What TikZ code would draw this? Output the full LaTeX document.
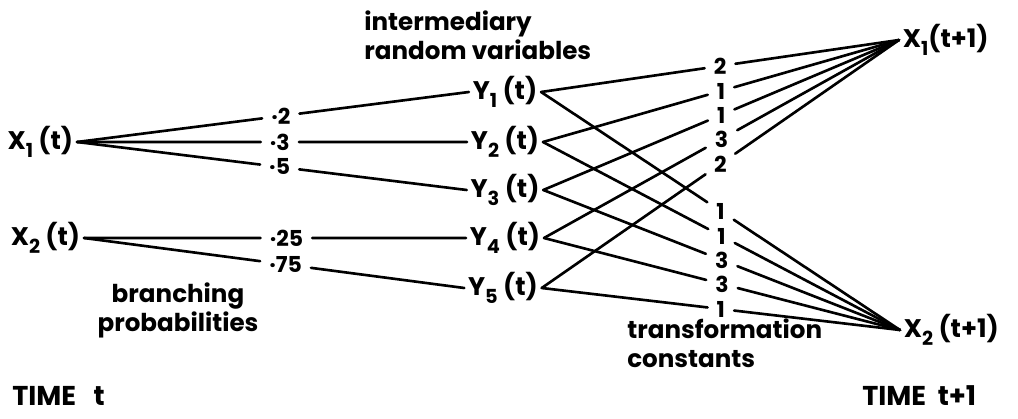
\documentclass[tikz,border=0pt]{standalone}
\usepackage{fontspec}
\setmainfont{Poppins}
\usetikzlibrary{calc}
\newcommand\lowsub[1]{\raisebox{-0.55ex}{\fontsize{11}{11}\selectfont #1}}
\begin{document}
\begin{tikzpicture}[x=0.02cm,y=-0.02cm,
  lbl/.style={font=\fontsize{14}{16.5}\selectfont\bfseries, inner sep=0pt},
  var/.style={font=\fontsize{14.5}{16}\selectfont\bfseries, inner xsep=2pt, inner ysep=0pt},
  const/.style={font=\fontsize{12.5}{14}\selectfont\bfseries, inner xsep=5pt, inner ysep=1pt},
  conn/.style={line width=1.5pt, line cap=round}]
\useasboundingbox (0,0) rectangle (1018,419);

% time t variables
\node[var, anchor=east] (X1t) at (77,142) {X\lowsub{1} (t)};
\node[var, anchor=east] (X2t) at (84,238) {X\lowsub{2} (t)};

% intermediary variables
\node[var] (Y1) at (505,92) {Y\lowsub{1} (t)};
\node[var] (Y2) at (505,142) {Y\lowsub{2} (t)};
\node[var] (Y3) at (505,190) {Y\lowsub{3} (t)};
\node[var] (Y4) at (505,238) {Y\lowsub{4} (t)};
\node[var] (Y5) at (503,288) {Y\lowsub{5} (t)};

% time t+1 variables
\node[var, anchor=west] (X1n) at (899,40) {X\lowsub{1}(t+1)};
\node[var, anchor=west] (X2n) at (900,330) {X\lowsub{2} (t+1)};

% branching probabilities
\node[const] (p1) at ($(X1t.east)!0.52!(Y1.west)$) {·2};
\node[const] (p2) at ($(X1t.east)!0.52!(Y2.west)$) {·3};
\node[const] (p3) at ($(X1t.east)!0.52!(Y3.west)$) {·5};
\node[const] (p4) at ($(X2t.east)!0.53!(Y4.west)$) {·25};
\node[const] (p5) at ($(X2t.east)!0.53!(Y5.west)$) {·75};

\draw[conn] (X1t.east) -- (p1) -- (Y1.west);
\draw[conn] (X1t.east) -- (p2) -- (Y2.west);
\draw[conn] (X1t.east) -- (p3) -- (Y3.west);
\draw[conn] (X2t.east) -- (p4) -- (Y4.west);
\draw[conn] (X2t.east) -- (p5) -- (Y5.west);

% transformation constants
\node[const] (a1) at ($(Y1.east)!0.5!(X1n.west)$) {2};
\node[const] (a2) at ($(Y2.east)!0.5!(X1n.west)$) {1};
\node[const] (a3) at ($(Y3.east)!0.5!(X1n.west)$) {1};
\node[const] (a4) at ($(Y4.east)!0.5!(X1n.west)$) {3};
\node[const] (a5) at ($(Y5.east)!0.5!(X1n.west)$) {2};
\node[const] (b1) at ($(Y1.east)!0.5!(X2n.west)$) {1};
\node[const] (b2) at ($(Y2.east)!0.5!(X2n.west)$) {1};
\node[const] (b3) at ($(Y3.east)!0.5!(X2n.west)$) {3};
\node[const] (b4) at ($(Y4.east)!0.5!(X2n.west)$) {3};
\node[const] (b5) at ($(Y5.east)!0.5!(X2n.west)$) {1};

\foreach \i in {1,...,5}{
  \draw[conn] (Y\i.east) -- (a\i) -- (X1n.west);
  \draw[conn] (Y\i.east) -- (b\i) -- (X2n.west);
}

% captions
\node[lbl, align=left, anchor=north west] (cap1) at (364,10) {intermediary\\random variables};
\node[lbl, align=center] (cap2) at (178,310) {branching\\probabilities};
\node[lbl, align=left, anchor=north west] (cap3) at (627,318) {transformation\\constants};
\node[lbl, anchor=west, font=\fontsize{15.5}{18}\selectfont\bfseries] (tt) at (12,396) {TIME\ \ \ t};
\node[lbl, anchor=west, font=\fontsize{15.5}{18}\selectfont\bfseries] (tn) at (862,396) {TIME\ \ t+1};
\end{tikzpicture}
\end{document}
